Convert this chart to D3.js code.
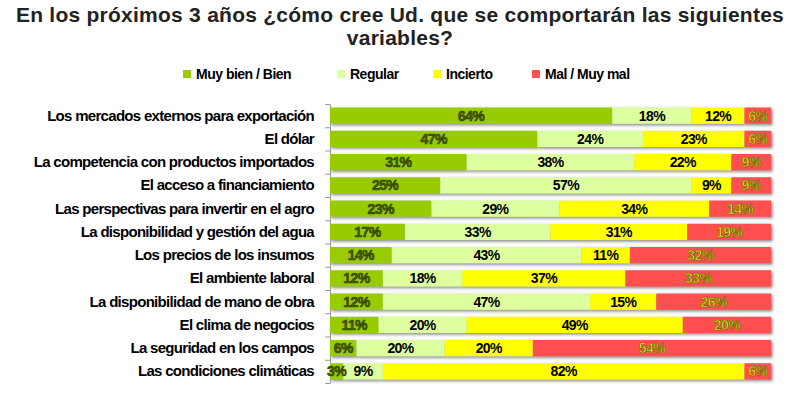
<!DOCTYPE html>
<html><head><meta charset="utf-8">
<script src="https://cdn.jsdelivr.net/npm/d3@7"></script>
<style>
body{margin:0;background:#fff;}
svg{display:block;}
.t{font-family:"Liberation Sans",Arial,sans-serif;font-weight:bold;fill:#222;}
.n{font-family:"Liberation Sans",Arial,sans-serif;font-weight:bold;}
</style></head>
<body>
<svg id="c" width="800" height="400"></svg>
<script>
const categories = [
 "Los mercados externos para exportación",
 "El dólar",
 "La competencia con productos importados",
 "El acceso a financiamiento",
 "Las perspectivas para invertir en el agro",
 "La disponibilidad y gestión del agua",
 "Los precios de los insumos",
 "El ambiente laboral",
 "La disponibilidad de mano de obra",
 "El clima de negocios",
 "La seguridad en los campos",
 "Las condiciones climáticas"
];
const seriesNames = ["Muy bien / Bien","Regular","Incierto","Mal / Muy mal"];
const muyBien = [64,47,31,25,23,17,14,12,12,11,6,3];
const regular = [18,24,38,57,29,33,43,18,47,20,20,9];
const incierto = [12,23,22,9,34,31,11,37,15,49,20,82];
const mal = [6,6,9,9,14,19,32,33,26,20,54,6];
const colors = ["#99cc00","#ddff9f","#ffff00","#ff5050"];
const labelFill = ["#4a5f00","#000000","#000000","#e8e820"];
const labelStroke = ["#2f3d00","none","none","#5a5a00"];
const title1 = "En los próximos 3 años ¿cómo cree Ud. que se comportarán las siguientes";
const title2 = "variables?";

const series = [muyBien, regular, incierto, mal];
const svg = d3.select("#c");

const defs = svg.append("defs");
const f = defs.append("filter").attr("id","sh").attr("x","-5%").attr("y","-60%").attr("width","110%").attr("height","220%");
f.append("feDropShadow").attr("dx",1.5).attr("dy",1.5).attr("stdDeviation",1.8).attr("flood-color","#777").attr("flood-opacity",0.9);

svg.append("text").attr("class","t").attr("x",400).attr("y",22).attr("text-anchor","middle").attr("font-size",21).attr("letter-spacing",0.25).text(title1);
svg.append("text").attr("class","t").attr("x",400).attr("y",45).attr("text-anchor","middle").attr("font-size",21).attr("letter-spacing",0.25).text(title2);

const x = d3.scaleLinear().domain([0,100]).range([330,771]);
const y = d3.scaleBand().domain(categories).range([104,383]).paddingInner(0.3).paddingOuter(0.15);

// legend
const legX = [183,337,433,532];
const leg = svg.append("g");
seriesNames.forEach((s,i)=>{
  leg.append("rect").attr("x",legX[i]).attr("y",70).attr("width",8).attr("height",8).attr("fill",colors[i]);
  leg.append("text").attr("class","n").attr("x",legX[i]+13).attr("y",78.5).attr("font-size",14).attr("letter-spacing",-0.5).attr("fill","#000").text(s);
});

// axis
const yi = d3.scaleLinear().domain([0,categories.length]).range([104,383]);
const ax = svg.append("g").attr("transform","translate(330,0)")
  .call(d3.axisLeft(yi).tickValues(d3.range(0,13)).tickFormat("").tickSize(5).tickSizeOuter(0));
ax.selectAll("path,line").attr("stroke","#999");

// category labels
svg.append("g").selectAll("text").data(categories).join("text")
  .attr("class","n").attr("x",314).attr("y",d=>y(d)+y.bandwidth()/2+5)
  .attr("text-anchor","end").attr("font-size",15).attr("letter-spacing",-0.7).attr("fill","#000").text(d=>d);

// bars
const stackData = categories.map((c,i)=>{
  let acc=0; return series.map((s,k)=>{const v=s[i]; const o={c,k,v,x0:acc,x1:acc+v}; acc+=v; return o;});
});
const rows = svg.append("g").selectAll("g").data(stackData).join("g").attr("filter","url(#sh)");
rows.selectAll("rect").data(d=>d).join("rect")
  .attr("x",d=>x(d.x0)).attr("y",d=>y(d.c)).attr("width",d=>x(d.x1)-x(d.x0)).attr("height",y.bandwidth())
  .attr("fill",d=>colors[d.k]);

const lab = svg.append("g");
stackData.forEach(r=>r.forEach(d=>{
  lab.append("text").attr("x",(x(d.x0)+x(d.x1))/2).attr("y",y(d.c)+y.bandwidth()/2+5)
    .attr("text-anchor","middle").attr("font-family","'Liberation Sans',Arial,sans-serif").attr("font-weight","bold")
    .attr("font-size",14).attr("letter-spacing",-0.6)
    .attr("fill",labelFill[d.k]).attr("stroke",labelStroke[d.k]).attr("stroke-width",labelStroke[d.k]==="none"?0:0.6)
    .text(d.v+"%");
}));
</script>
</body></html>
